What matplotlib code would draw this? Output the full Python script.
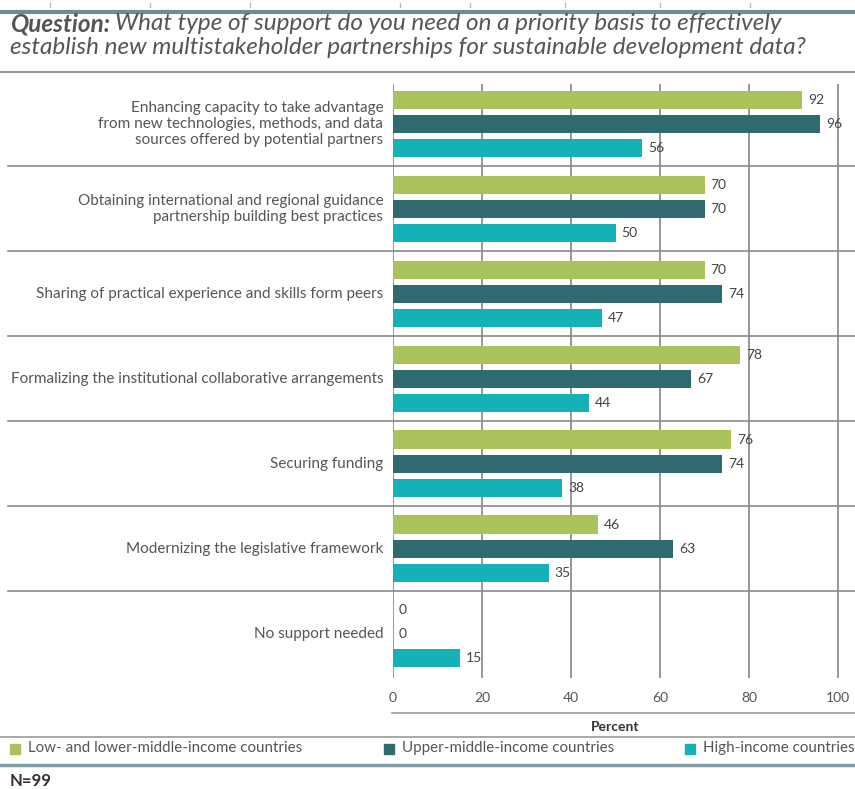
import matplotlib

matplotlib.use("Agg")
import matplotlib.pyplot as plt
from matplotlib.lines import Line2D
from matplotlib.patches import Rectangle

plt.rcParams["font.family"] = ["Lato", "DejaVu Sans"]

CATEGORIES = [
    "Enhancing capacity to take advantage\nfrom new technologies, methods, and data\nsources offered by potential partners",
    "Obtaining international and regional guidance\npartnership building best practices",
    "Sharing of practical experience and skills form peers",
    "Formalizing the institutional collaborative arrangements",
    "Securing funding",
    "Modernizing the legislative framework",
    "No support needed",
]
LOW_INCOME = [92, 70, 70, 78, 76, 46, 0]
UPPER_MIDDLE = [96, 70, 74, 67, 74, 63, 0]
HIGH_INCOME = [56, 50, 47, 44, 38, 35, 15]
SERIES_NAMES = [
    "Low- and lower-middle-income countries",
    "Upper-middle-income countries",
    "High-income countries",
]
X_TICKS = [0, 20, 40, 60, 80, 100]

GREEN = "#a9c25a"
TEAL = "#2e6a6f"
CYAN = "#14b1b6"
TEXT = "#555555"
RULE = "#8a8a8a"

W, H = 855, 789
fig = plt.figure(figsize=(W / 100, H / 100), dpi=100, facecolor="white")
renderer = fig.canvas.get_renderer()


def fx(px):
    return px / W


def fy(py):
    return 1 - py / H


def hline(y, x0=0, x1=W, color=RULE, lw=1.2):
    fig.add_artist(Line2D([fx(x0), fx(x1)], [fy(y), fy(y)], color=color, lw=lw))


def fit_size(text, width_px, **kw):
    # font size that makes `text` about width_px wide
    t = fig.text(0, 0, text, fontsize=10, **kw)
    w = t.get_window_extent(renderer).width
    t.remove()
    return 10 * width_px / w


# plot area: value 0 at x=393, 4.45 px per percent, groups every 85 px
x0_px, px_per = 393, 4.45
top_px, bot_px = 84, 678
ax = fig.add_axes([fx(x0_px), fy(bot_px), fx(W - x0_px), (bot_px - top_px) / H])
ax.set_xlim(0, (W - x0_px) / px_per)
ax.set_ylim(6.52, -0.47)
ax.axis("off")

num_size = 10
for t in X_TICKS:
    ax.plot([t, t], [6.52, -0.47], color="#7a7a7a", lw=1.1, zorder=1,
            solid_capstyle="butt")
    ax.text(t, 6.52 + 0.24, str(t), ha="center", va="center", fontsize=num_size,
            color=TEXT, clip_on=False)

offset, bar_h = 0.285, 0.215
for k, (vals, color) in enumerate(zip([LOW_INCOME, UPPER_MIDDLE, HIGH_INCOME],
                                      [GREEN, TEAL, CYAN])):
    ys = [i + (k - 1) * offset for i in range(len(CATEGORIES))]
    ax.barh(ys, vals, height=bar_h, color=color, zorder=2)
    for y, v in zip(ys, vals):
        ax.text(v + 1.3, y, str(v), ha="left", va="center", fontsize=num_size,
                color="#444444", zorder=3)

label_size = fit_size(CATEGORIES[3], 372)
for i, label in enumerate(CATEGORIES):
    ax.text(-2.2, i, label, ha="right", va="center", fontsize=label_size,
            color=TEXT, linespacing=1.2, clip_on=False)

# separators between question groups
for i in range(1, len(CATEGORIES)):
    y_px = top_px + (i - 0.5 + 0.47) * 85
    hline(y_px, x0=8)

# header
hline(12, color="#6f8c94", lw=3)
for xp in [50, 150, 250, 400, 470, 565, 660, 750]:
    fig.add_artist(Line2D([fx(xp), fx(xp)], [fy(3), fy(7)], color="#bbbbbb", lw=1))
line2 = "establish new multistakeholder partnerships for sustainable development data?"
title_size = 17.5
q = fig.text(fx(10), fy(24), "Question:", fontsize=title_size, fontweight="bold",
             fontstyle="italic", color=TEXT, va="center")
q_w = q.get_window_extent(renderer).width
fig.text(fx(10 + q_w + 0.28 * title_size), fy(24),
         "What type of support do you need on a priority basis to effectively",
         fontsize=title_size, fontstyle="italic", color=TEXT, va="center")
fig.text(fx(10), fy(47), line2, fontsize=title_size, fontstyle="italic",
         color=TEXT, va="center")
hline(72, color="#999999", lw=1.5)

# axis title and legend
hline(713, x0=392, color="#999999")
fig.text(fx(x0_px + 50 * px_per), fy(727), "Percent", ha="center", va="center",
         fontsize=10, fontweight="bold", color="#333333")
hline(737, color="#999999")

legend_size = fit_size(SERIES_NAMES[0], 274)
legend_items = [(10, GREEN), (384, TEAL), (685, CYAN)]
for (xp, color), name in zip(legend_items, SERIES_NAMES):
    fig.add_artist(Rectangle((fx(xp), fy(754)), fx(10), 10 / H, color=color,
                             transform=fig.transFigure))
    fig.text(fx(xp + 18), fy(748), name, va="center", fontsize=legend_size,
             color=TEXT)

hline(765, color="#7f9ca2", lw=2.5)
fig.text(fx(10), fy(781), "N=99", va="center", fontsize=12, fontweight="bold",
         color="#333333")

fig.savefig("out.png", dpi=100, facecolor="white")
